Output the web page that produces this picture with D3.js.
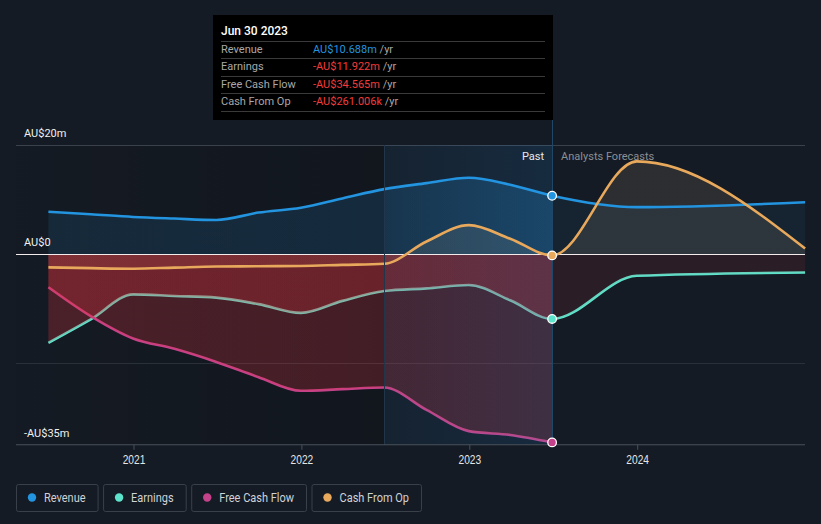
<!DOCTYPE html>
<html><head><meta charset="utf-8">
<script src="https://cdn.jsdelivr.net/npm/d3@7"></script>
<style>
html,body{margin:0;padding:0;background:#151b24;}
svg{display:block;font-family:Roboto,"Noto Sans",sans-serif;}
</style></head><body>
<svg id="c" width="821" height="524"></svg>
<script>
// ---------- data (AU$ millions) ----------
const pastDates = ["2020-06-30","2020-09-30","2020-12-31","2021-03-31","2021-06-30","2021-09-30","2021-12-31","2022-03-31","2022-06-30","2022-09-30","2022-12-31","2023-03-31","2023-06-30"];
const forecastDates = ["2023-06-30","2023-12-31","2024-12-31"];
const revenuePast  = [7.76, 7.3, 6.8, 6.5, 6.25, 7.6, 8.5, 10.2, 11.9, 13.0, 14.0, 12.7, 10.688];
const earningsPast = [-16.3, -12.0, -7.4, -7.7, -8.0, -9.2, -10.8, -8.6, -6.8, -6.3, -5.7, -8.5, -11.922];
const fcfPast      = [-6.1, -11.4, -15.5, -17.4, -19.8, -22.6, -25.1, -24.8, -24.5, -28.6, -32.5, -33.2, -34.565];
const cfoPast      = [-2.45, -2.6, -2.7, -2.5, -2.3, -2.25, -2.2, -2.0, -1.8, 2.3, 5.3, 2.8, -0.261];
const revenueForecast  = [10.688, 8.6, 9.5];
const earningsForecast = [-11.922, -4.0, -3.4];
const cfoForecast      = [-0.261, 17.0, 1.0];
const yTickValues = [20, 0, -35];
const yTickLabels = ["AU$20m", "AU$0", "-AU$35m"];
const xTickYears = [2021, 2022, 2023, 2024];
const seriesNames = ["Revenue", "Earnings", "Free Cash Flow", "Cash From Op"];
const seriesColors = ["#2394df", "#5ce3cb", "#c4428a", "#e8a95c"];
const tooltipDate = "Jun 30 2023";
const tooltipValues = ["AU$10.688m", "-AU$11.922m", "-AU$34.565m", "-AU$261.006k"];
const highlightStart = "2022-06-30";
const pastEnd = "2023-06-30";

// ---------- setup ----------
const svg = d3.select("#c");
const parse = d3.utcParse("%Y-%m-%d");
const x = d3.scaleUtc().domain([new Date(Date.UTC(2021,0,1)), new Date(Date.UTC(2024,0,1))]).range([133.5, 637.2]);
const y = d3.scaleLinear().domain([-35, 20]).range([444.75, 145]);
const plotL = 16, plotR = 805;
const mk = (dates, vals) => dates.map((d,i) => ({date: parse(d), v: vals[i]}));
const revenue = mk(pastDates, revenuePast).concat(mk(forecastDates, revenueForecast).slice(1));
const earnings = mk(pastDates, earningsPast).concat(mk(forecastDates, earningsForecast).slice(1));
const fcf = mk(pastDates, fcfPast);
const cfo = mk(pastDates, cfoPast).concat(mk(forecastDates, cfoForecast).slice(1));
const xPastEnd = x(parse(pastEnd)), xHi = x(parse(highlightStart));

const defs = svg.append("defs");
function hGrad(id, stops) {
  const g = defs.append("linearGradient").attr("id", id).attr("gradientUnits","userSpaceOnUse")
    .attr("x1", plotL).attr("x2", plotR).attr("y1",0).attr("y2",0);
  stops.forEach(s => g.append("stop").attr("offset", (s[0]-plotL)/(plotR-plotL)).attr("stop-color", s[1]).attr("stop-opacity", s[2]));
}
const fx = xPastEnd;
hGrad("gRev", [[plotL,"#2394df",0.12],[xHi,"#2394df",0.16],[fx,"#2394df",0.26],[fx+0.01,"#2394df",0.07],[plotR,"#2394df",0.07]]);
hGrad("gRed", [[plotL,"#e6323c",0.26],[fx,"#e6323c",0.22],[fx+0.01,"#e6323c",0.1],[plotR,"#e6323c",0.1]]);
hGrad("gCfo", [[plotL,"#ffd6a0",0.1],[plotR,"#ffd6a0",0.1]]);
hGrad("gDark", [[plotL,"#000",0.03],[xHi,"#000",0.16],[xHi+0.01,"#000",0],[plotR,"#000",0]]);
hGrad("gHi", [[plotL,"#2196f3",0],[xHi,"#2196f3",0],[xHi+0.01,"#2196f3",0.06],[fx,"#2196f3",0.13],[fx+0.01,"#2196f3",0],[plotR,"#2196f3",0]]);

// past darkening
svg.append("rect").attr("x", plotL).attr("y", y(20)).attr("width", plotR-plotL).attr("height", y(-35)-y(20)).attr("fill","url(#gDark)");

// gridlines
[20, -20].forEach(v => svg.append("line").attr("x1", plotL).attr("x2", plotR).attr("y1", y(v)).attr("y2", y(v))
  .attr("stroke", v===20 ? "#3b414b" : "#2a3039").attr("stroke-width",1).attr("shape-rendering","crispEdges"));

const curve = d3.curveMonotoneX;
const area = d3.area().x(d => x(d.date)).y0(y(0)).y1(d => y(d.v)).curve(curve);
const line = d3.line().x(d => x(d.date)).y(d => y(d.v)).curve(curve);

svg.append("path").datum(revenue).attr("d", area).attr("fill","url(#gRev)");
svg.append("path").datum(cfo).attr("d", area).attr("fill","url(#gCfo)");

const allSeries = [revenue, earnings, fcf];
allSeries.forEach((s,i) => svg.append("path").datum(s).attr("d", line).attr("fill","none")
  .attr("stroke", seriesColors[i]).attr("stroke-width", 2.6).attr("stroke-linejoin","round"));

// negative areas on top
svg.append("path").datum(earnings).attr("d", area).attr("fill","url(#gRed)");
svg.append("path").datum(fcf).attr("d", area).attr("fill","url(#gRed)");

// highlight overlay
svg.append("rect").attr("x", plotL).attr("y", y(20)).attr("width", plotR-plotL).attr("height", y(-35)-y(20)).attr("fill","url(#gHi)");

// zero line
svg.append("line").attr("x1", plotL).attr("x2", plotR).attr("y1", y(0)).attr("y2", y(0))
  .attr("stroke","#f4ecec").attr("stroke-width",1).attr("shape-rendering","crispEdges");

// cash from op line on top
svg.append("path").datum(cfo).attr("d", line).attr("fill","none")
  .attr("stroke", seriesColors[3]).attr("stroke-width", 2.6).attr("stroke-linejoin","round");

// vertical dividers
svg.append("line").attr("x1", xHi).attr("x2", xHi).attr("y1", y(20)).attr("y2", y(-35))
  .attr("stroke","#22364b").attr("stroke-width",1).attr("shape-rendering","crispEdges");
svg.append("line").attr("x1", xPastEnd).attr("x2", xPastEnd).attr("y1", 119).attr("y2", y(-35))
  .attr("stroke","#1f4868").attr("stroke-width",1).attr("shape-rendering","crispEdges");

// x axis
const xAxis = d3.axisBottom(x).tickValues(xTickYears.map(yv => new Date(Date.UTC(yv,0,1))))
  .tickFormat(d3.utcFormat("%Y")).tickSize(5).tickPadding(6);
const gx = svg.append("g").attr("transform", `translate(0,${y(-35)})`).call(xAxis);
gx.select(".domain").remove();
gx.selectAll(".tick line").attr("stroke","#4a505a");
gx.selectAll(".tick text").attr("fill","#e6e6e6").attr("font-size",12)
  .attr("transform","scale(0.85,1)")
  .attr("x", function(){ return 0; });
svg.append("line").attr("x1", plotL).attr("x2", plotR).attr("y1", y(-35)).attr("y2", y(-35))
  .attr("stroke","#4a505a").attr("stroke-width",1.2);

// y labels
yTickValues.forEach((v,i) => svg.append("text").attr("x", 24).attr("y", y(v) - 8)
  .attr("fill","#f0f0f0").attr("font-size",11).text(yTickLabels[i]));

// markers
[revenue, earnings, fcf, cfo].forEach((s,i) => {
  const p = s.find(d => +d.date === +parse(pastEnd));
  svg.append("circle").attr("cx", x(p.date)).attr("cy", y(p.v)).attr("r", 4.3)
    .attr("fill", seriesColors[i]).attr("stroke","#fff").attr("stroke-width",1.3);
});

// past / forecast labels
svg.append("text").attr("x", xPastEnd - 8).attr("y", 160).attr("text-anchor","end")
  .attr("fill","#e8e8e8").attr("font-size",11).text("Past");
svg.append("text").attr("x", xPastEnd + 9).attr("y", 160)
  .attr("fill","#8a8f96").attr("font-size",11).text("Analysts Forecasts");

// tooltip
const tt = svg.append("g").attr("transform","translate(213,15)");
tt.append("rect").attr("width",340).attr("height",105).attr("fill","#000");
tt.append("text").attr("x",8).attr("y",20).attr("fill","#fff").attr("font-size",12).attr("font-weight",500).text(tooltipDate);
[26.5, 43.5, 61, 78, 96].forEach(ly => tt.append("line").attr("x1",8).attr("x2",332).attr("y1",ly).attr("y2",ly)
  .attr("stroke","#3a3a3a").attr("shape-rendering","crispEdges"));
seriesNames.forEach((n,i) => {
  const ry = 38 + i*17.3;
  tt.append("text").attr("x",8).attr("y",ry).attr("fill","#a8a8a8").attr("font-size",11).text(n);
  const t = tt.append("text").attr("x",100).attr("y",ry).attr("font-size",11);
  t.append("tspan").attr("fill", i===0 ? "#2394df" : "#f23c3c").text(tooltipValues[i]);
  t.append("tspan").attr("fill","#a8a8a8").text(" /yr");
});

// legend
let lx = 16;
const sx = 0.88;
seriesNames.forEach((n,i) => {
  const g = svg.append("g").attr("transform",`translate(${lx},484)`);
  const r = g.append("rect").attr("x",0.5).attr("y",0.5).attr("height",27).attr("rx",2)
    .attr("fill","none").attr("stroke","#3a404a");
  g.append("circle").attr("cx",16).attr("cy",13.5).attr("r",4.2).attr("fill",seriesColors[i]);
  const t = g.append("text").attr("x",28/sx).attr("y",18).attr("transform",`scale(${sx},1)`)
    .attr("fill","#cfd2d6").attr("font-size",12.5).text(n);
  const w = t.node().getComputedTextLength()*sx + 40;
  r.attr("width", w);
  lx += w + 5.5;
});
</script>
</body></html>
